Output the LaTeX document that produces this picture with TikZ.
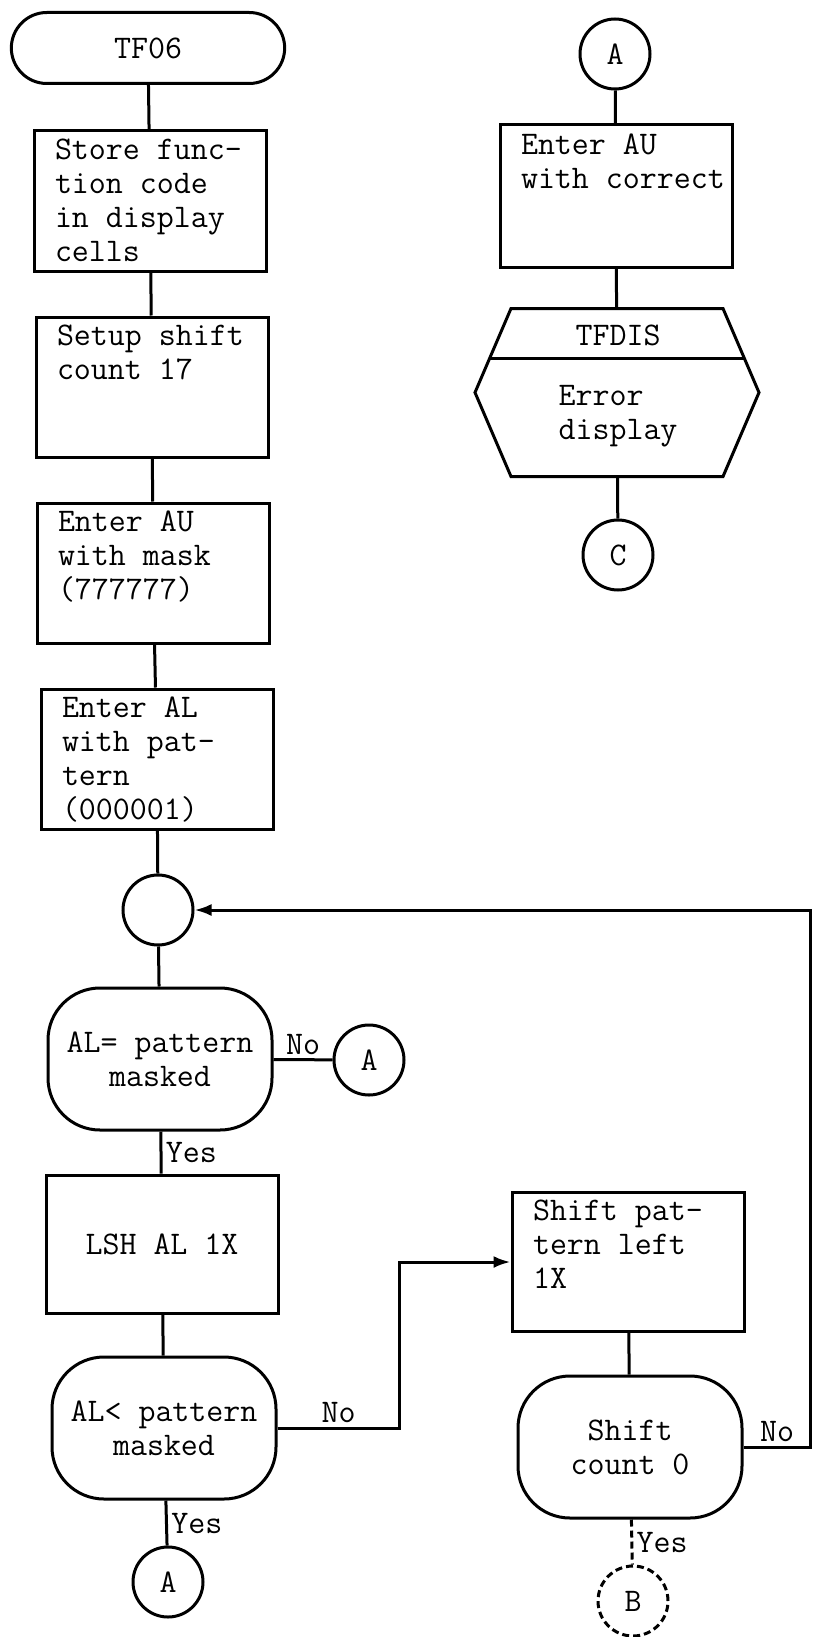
\documentclass[tikz,border=0pt]{standalone}
\usepackage{fontspec}
\usetikzlibrary{positioning,shapes.misc,arrows.meta}
\newcommand{\boxlines}[1]{\parbox[c][124pt][t]{232pt}{\leftskip=21pt\rightskip=-20pt plus 1fil\relax #1}}

\begin{document}
\begin{tikzpicture}
  [x=1pt,y=-1pt,line width=3pt,>={Latex[length=17pt,width=12pt]},
   every node/.style={font=\ttfamily\fontsize{33}{34}\selectfont},
   term/.style={draw,rounded rectangle,minimum width=280pt,minimum height=71pt},
   proc/.style={draw,rectangle,minimum width=232pt,minimum height=140pt,inner sep=0pt},
   decide/.style={draw,rectangle,rounded corners=52pt,minimum width=224pt,minimum height=142pt,align=center},
   conn/.style={draw,circle,minimum size=70pt,inner sep=0pt}]
  \useasboundingbox (0,0) rectangle (817,1637);

  % main path
  \node[term] (tf) at (148,48) {TF06};
  \node[proc] (store) at (150,201) {\boxlines{Store func-\\tion code\\in display\\cells}};
  \node[proc] (setup) at (152,387) {\boxlines{Setup shift\\count 17}};
  \node[proc] (mask) at (153,573) {\boxlines{Enter AU\\with mask\\(777777)}};
  \node[proc] (patt) at (157,759) {\boxlines{Enter AL\\with pat-\\tern\\(000001)}};
  \node[conn] (jn) at (158,910) {};
  \node[decide] (eq) at (160,1059) {AL= pattern\\masked};
  \node[conn] (na) at (369,1060) {A};
  \node[proc,minimum height=138pt] (lsh) at (162,1244) {LSH AL 1X};
  \node[decide] (lt) at (164,1428) {AL< pattern\\masked};
  \node[conn] (ya) at (168,1582) {A};
  \node[proc,minimum height=139pt] (spl) at (628,1262) {\boxlines{Shift pat-\\tern left\\1X}};
  \node[decide] (cnt) at (630,1447) {Shift\\count 0};
  \node[conn,dash pattern=on 7pt off 4pt] (yb) at (633,1601) {B};

  % error branch
  \node[conn] (ta) at (615,54) {A};
  \node[proc,minimum height=142pt] (corr) at (616,196) {\boxlines{Enter AU\\with correct}};
  \node[minimum width=281pt,minimum height=165pt,inner sep=0pt] (dis) at (617,392.5) {};
  \draw (dis.west) -- ([xshift=36pt]dis.north west) -- ([xshift=-36pt]dis.north east)
    -- (dis.east) -- ([xshift=-36pt]dis.south east) -- ([xshift=36pt]dis.south west) -- cycle;
  \draw ([xshift=14pt,yshift=-50pt]dis.north west) -- ([xshift=-14pt,yshift=-50pt]dis.north east);
  \node (dist) at (618,335) {TFDIS};
  \node[align=left] (dise) at (618,416) {Error\\display};
  \node[conn] (tc) at (618,555) {C};

  \foreach \from/\to in {tf/store,store/setup,setup/mask,mask/patt,patt/jn,jn/eq,lsh/lt,spl/cnt,ta/corr,corr/dis,dis/tc}
    \draw (\from) -- (\to);

  \draw (eq) -- node[above] {No} (na);
  \draw (eq) -- node[right] {Yes} (lsh);
  \draw (lt) -- node[right] {Yes} (ya);
  \draw[->] (lt.east) -- node[above] {No} ++(122pt,0) |- (spl.west);
  \draw[dash pattern=on 7pt off 4pt] (cnt) -- node[right] {Yes} (yb);
  \draw[->] (cnt.east) -- node[above] {No} ++(67pt,0) |- (jn.east);
\end{tikzpicture}
\end{document}
